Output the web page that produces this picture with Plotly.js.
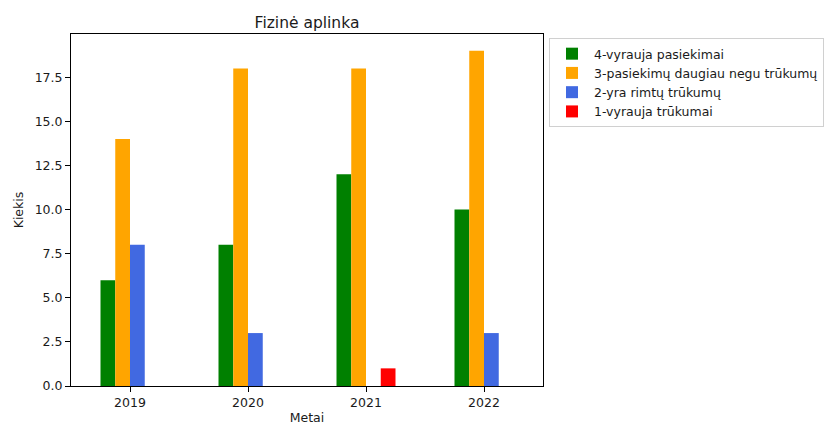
<!DOCTYPE html>
<html>
<head>
<meta charset="utf-8">
<script src="https://cdn.plot.ly/plotly-3.0.1.min.js"></script>
<style>
  html, body { margin: 0; padding: 0; background: #ffffff; }
  #chart { width: 832px; height: 425px; }
</style>
</head>
<body>
<div id="chart"></div>
<script>
const years = ["2019", "2020", "2021", "2022"];
const seriesNames = [
  "4-vyrauja pasiekimai",
  "3-pasiekimų daugiau negu trūkumų",
  "2-yra rimtų trūkumų",
  "1-vyrauja trūkumai"
];
const level4 = [6, 8, 12, 10];
const level3 = [14, 18, 18, 19];
const level2 = [8, 3, 0, 3];
const level1 = [0, 0, 1, 0];
const seriesColors = ["#008000", "#ffa500", "#4169e1", "#ff0000"];

const font = "DejaVu Sans, sans-serif";
const textColor = "#1a1a1a";

const traces = [level4, level3, level2, level1].map(function (values, i) {
  return {
    type: "bar",
    name: seriesNames[i],
    x: years,
    y: values,
    marker: { color: seriesColors[i], line: { width: 0 } },
    hoverinfo: "y+name"
  };
});

const axisBase = {
  showline: true,
  linecolor: "#000000",
  linewidth: 1,
  mirror: true,
  ticks: "outside",
  ticklen: 5,
  tickwidth: 1,
  tickcolor: "#000000",
  showgrid: false,
  zeroline: false,
  tickfont: { family: font, size: 12.5, color: textColor }
};

const layout = {
  width: 832,
  height: 425,
  margin: { l: 71, r: 289, t: 34, b: 39, autoexpand: false },
  paper_bgcolor: "#ffffff",
  plot_bgcolor: "#ffffff",
  font: { family: font, color: textColor },
  barmode: "group",
  bargap: 0.5,
  bargroupgap: 0,
  title: {
    text: "Fizinė aplinka",
    font: { family: font, size: 15.5, color: textColor },
    x: 0.369,
    xanchor: "center",
    y: 0.948,
    yanchor: "middle"
  },
  xaxis: Object.assign({}, axisBase, {
    type: "category",
    range: [-0.5, 3.5],
    title: { text: "Metai", font: { family: font, size: 12.5, color: textColor }, standoff: 4 }
  }),
  yaxis: Object.assign({}, axisBase, {
    range: [0, 19.95],
    dtick: 2.5,
    tick0: 0,
    tickformat: ".1f",
    title: { text: "Kiekis", font: { family: font, size: 12.5, color: textColor }, standoff: 8 }
  }),
  legend: {
    x: 1.0127,
    xanchor: "left",
    y: 0.9885,
    yanchor: "top",
    itemwidth: 34,
    bgcolor: "#ffffff",
    bordercolor: "#d0d0d0",
    borderwidth: 1,
    font: { family: font, size: 12.5, color: textColor },
    traceorder: "normal"
  },
  showlegend: true
};

Plotly.newPlot("chart", traces, layout, { displayModeBar: false, responsive: false });
</script>
</body>
</html>
